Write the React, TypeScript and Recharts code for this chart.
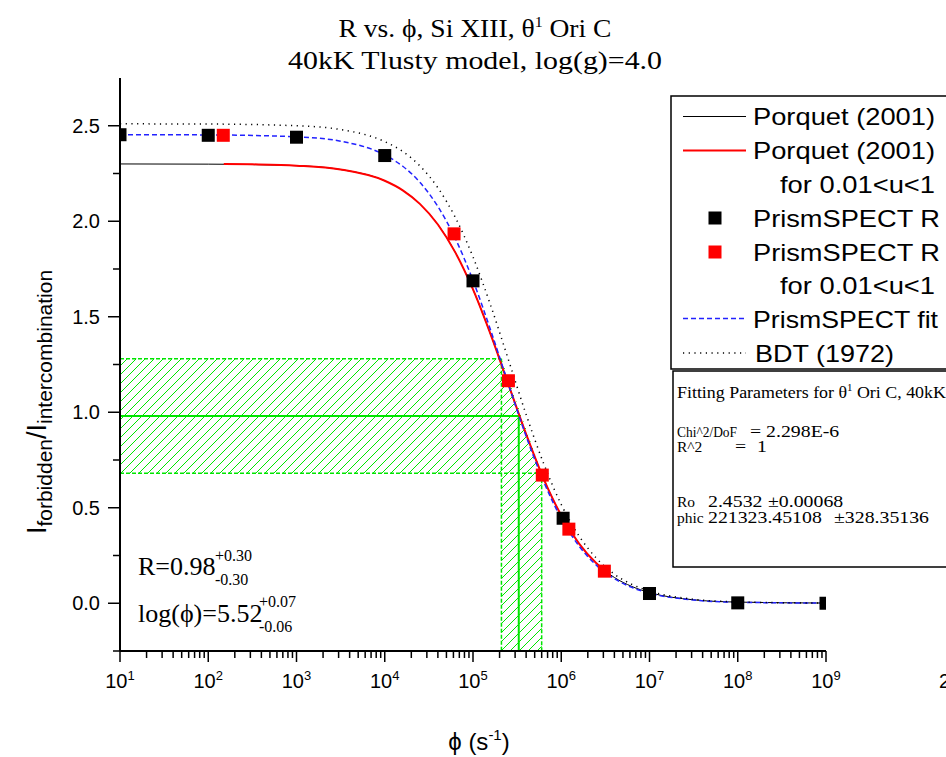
import React from 'react';
import {
  ComposedChart,
  Line,
  Scatter,
  Area,
  XAxis,
  YAxis,
  ReferenceArea,
  ReferenceLine,
} from 'recharts';

// ---------- data ----------
const curvePhi = [10, 100, 1e3, 3.16e3, 1e4, 1.6e4, 2.5e4, 4e4, 6.3e4, 1e5, 1.6e5, 2.5e5, 4e5, 6.3e5, 1e6, 1.6e6, 2.5e6, 4e6, 6.3e6, 1e7, 3.16e7, 1e8, 1e9];
const porquetR = [2.300, 2.299, 2.291, 2.271, 2.212, 2.162, 2.091, 1.983, 1.837, 1.643, 1.402, 1.150, 0.885, 0.653, 0.460, 0.311, 0.209, 0.135, 0.088, 0.056, 0.018, 0.006, 0.001];
const fitR = [2.453, 2.452, 2.442, 2.419, 2.347, 2.288, 2.204, 2.077, 1.910, 1.690, 1.424, 1.152, 0.874, 0.638, 0.444, 0.298, 0.199, 0.129, 0.083, 0.053, 0.017, 0.005, 0.001];
const bdtR = [2.510, 2.509, 2.500, 2.480, 2.417, 2.365, 2.290, 2.175, 2.020, 1.813, 1.554, 1.280, 0.988, 0.733, 0.517, 0.351, 0.236, 0.152, 0.099, 0.064, 0.021, 0.007, 0.001];

const porquetUPhi = [150, 316, 1e3, 3.16e3, 1e4, 1.6e4, 2.5e4, 4e4, 6.3e4, 1e5, 1.6e5, 2.5e5, 4e5, 6.3e5, 1e6, 1.6e6, 2.5e6, 3e6];
const porquetUR = [2.300, 2.298, 2.291, 2.271, 2.212, 2.162, 2.091, 1.983, 1.837, 1.643, 1.402, 1.150, 0.885, 0.653, 0.460, 0.311, 0.209, 0.177];

const prismPhi = [10, 100, 1e3, 1e4, 1e5, 1.05e6, 1e7, 1e8, 1e9];
const prismR = [2.453, 2.450, 2.440, 2.344, 1.688, 0.445, 0.051, 0.002, 0.0];

const prismUPhi = [148, 6.1e4, 2.52e5, 6.1e5, 1.22e6, 3.08e6];
const prismUR = [2.450, 1.934, 1.165, 0.671, 0.388, 0.168];

// measured R band and phi band
const bandPhi = [10, 2.1e5, 3.3e5, 6.0e5]; // start, low, centre, high
const bandR = [0.68, 0.98, 1.28]; // low, centre, high

const xMajorTicks = [1e1, 1e2, 1e3, 1e4, 1e5, 1e6, 1e7, 1e8, 1e9];
const xMinorMult = [2, 3, 4, 5, 6, 7, 8, 9];
const yMajorTicks = [0, 0.5, 1.0, 1.5, 2.0, 2.5];
const yMinorTicks = [-0.25, 0.25, 0.75, 1.25, 1.75, 2.25];

const zip = (xs: number[], ys: number[]) => xs.map((phi, i) => ({ phi, r: ys[i] }));

const porquetData = zip(curvePhi, porquetR);
const fitData = zip(curvePhi, fitR);
const bdtData = zip(curvePhi, bdtR);
const porquetUData = zip(porquetUPhi, porquetUR);
const prismData = zip(prismPhi, prismR);
const prismUData = zip(prismUPhi, prismUR);
const vBandData = [
  { phi: bandPhi[1], r: bandR[2] },
  { phi: bandPhi[3], r: bandR[0] },
];

const xTicks: number[] = [];
xMajorTicks.forEach((m, i) => {
  xTicks.push(m);
  if (i < xMajorTicks.length - 1) xMinorMult.forEach((k) => xTicks.push(m * k));
});
const yTicks = [...yMajorTicks, ...yMinorTicks].sort((a, b) => a - b);

const SANS = '"Liberation Sans", Arial, sans-serif';
const SERIF = '"Liberation Serif", "Times New Roman", serif';
const GREEN = '#00e600';

const X_TICK_SIZE = 11;
const X_TICK_MARGIN = 4;
const Y_TICK_SIZE = 12;
const Y_TICK_MARGIN = 8;

const XTick = (props: any) => {
  const { x, y, payload } = props;
  const v = payload.value as number;
  const e = Math.round(Math.log10(v));
  const major = Math.abs(v - Math.pow(10, e)) < 1e-6 * v;
  const ay = y - X_TICK_SIZE - X_TICK_MARGIN;
  return (
    <g>
      <line x1={x} x2={x} y1={ay} y2={ay + (major ? 11 : 7)} stroke="#000" strokeWidth={1.5} />
      {major && (
        <text x={x} y={ay + 37} textAnchor="middle" fontFamily={SANS} fontSize={20} fill="#000">
          10
          <tspan dy={-8} fontSize={13}>{e}</tspan>
        </text>
      )}
    </g>
  );
};

const YTick = (props: any) => {
  const { x, y, payload } = props;
  const v = payload.value as number;
  const major = yMajorTicks.some((m) => Math.abs(m - v) < 1e-9);
  const ax = x + Y_TICK_SIZE + Y_TICK_MARGIN;
  return (
    <g>
      <line x1={ax - (major ? 12 : 7)} x2={ax} y1={y} y2={y} stroke="#000" strokeWidth={1.5} />
      {major && (
        <text x={ax - 20} y={y + 7} textAnchor="end" fontFamily={SANS} fontSize={20} fill="#000">
          {v.toFixed(1)}
        </text>
      )}
    </g>
  );
};

const BlackSquare = (p: any) => <rect x={p.cx - 6.5} y={p.cy - 6.5} width={13} height={13} fill="#000" />;
const RedSquare = (p: any) => <rect x={p.cx - 6.5} y={p.cy - 6.5} width={13} height={13} fill="#ff0000" />;

// scaled text helper
const ST = (props: any) => {
  const { x, y, sx = 1, children, ...rest } = props;
  return (
    <g transform={`translate(${x},${y}) scale(${sx},1)`}>
      <text x={0} y={0} {...rest}>
        {children}
      </text>
    </g>
  );
};

// text with fixed length
const LT = (props: any) => {
  const { len, children, ...rest } = props;
  return (
    <text textLength={len} lengthAdjust="spacingAndGlyphs" {...rest}>
      {children}
    </text>
  );
};

const Overlay = () => {
  const legendRows = [125, 159, 193, 226.5, 260.5, 294, 328, 361.5];
  const lx1 = 683;
  const lx2 = 746;
  const tx = 753;
  const lfs = 24;
  const lp = { fontFamily: SANS, fontSize: lfs, fill: '#000' };
  const fl = { fontFamily: SERIF, fontSize: 15.5, fill: '#000' };
  const fv = { fontFamily: SERIF, fontSize: 16.5, fill: '#000' };
  const vsx = 1.2;
  return (
    <svg width={946} height={757} style={{ position: 'absolute', left: 0, top: 0, pointerEvents: 'none' }}>
      {/* title */}
      <ST x={475} y={37} sx={1.06} textAnchor="middle" fontFamily={SERIF} fontSize={26} fill="#000">
        R vs. ϕ, Si XIII, θ<tspan dy={-10} fontSize={15}>1</tspan>
        <tspan dy={10}> Ori C</tspan>
      </ST>
      <ST x={475} y={69} sx={1.15} textAnchor="middle" fontFamily={SERIF} fontSize={26} fill="#000">
        40kK Tlusty model, log(g)=4.0
      </ST>

      {/* y label */}
      <text transform="translate(46,402) rotate(-90)" textAnchor="middle" fontFamily={SANS} fontSize={27} fill="#000">
        I<tspan fontSize={21} dy={6}>forbidden</tspan>
        <tspan fontSize={27} dy={-6}>/I</tspan>
        <tspan fontSize={21} dy={6}>intercombination</tspan>
      </text>

      {/* x label */}
      <text x={479} y={750} textAnchor="middle" fontFamily={SANS} fontSize={24} fill="#000">
        ϕ (s<tspan dy={-10} fontSize={15}>-1</tspan>
        <tspan dy={10}>)</tspan>
      </text>

      <text x={939} y={688} fontFamily={SANS} fontSize={20} fill="#000">2</text>

      {/* annotations */}
      <text x={138} y={575} fontFamily={SERIF} fontSize={26} fill="#000">R=0.98</text>
      <text x={215} y={561} fontFamily={SERIF} fontSize={16} fill="#000">+0.30</text>
      <text x={215} y={585} fontFamily={SERIF} fontSize={16} fill="#000">-0.30</text>
      <text x={138} y={622} fontFamily={SERIF} fontSize={26} fill="#000">log(ϕ)=5.52</text>
      <text x={259} y={607} fontFamily={SERIF} fontSize={16} fill="#000">+0.07</text>
      <text x={259} y={632} fontFamily={SERIF} fontSize={16} fill="#000">-0.06</text>

      {/* legend box */}
      <rect x={671} y={96} width={300} height={273} fill="#fff" stroke="#000" strokeWidth={1.5} />
      <line x1={lx1} x2={lx2} y1={legendRows[0] - 8.5} y2={legendRows[0] - 8.5} stroke="#000" strokeWidth={1} />
      <LT x={tx} y={legendRows[0]} len={182} {...lp}>Porquet (2001)</LT>
      <line x1={lx1} x2={lx2} y1={legendRows[1] - 8.5} y2={legendRows[1] - 8.5} stroke="#ff0000" strokeWidth={2} />
      <LT x={tx} y={legendRows[1]} len={182} {...lp}>Porquet (2001)</LT>
      <LT x={780} y={legendRows[2]} len={155} {...lp}>for 0.01&lt;u&lt;1</LT>
      <rect x={708.5} y={legendRows[3] - 8.5 - 6.5} width={13} height={13} fill="#000" />
      <LT x={tx} y={legendRows[3]} len={187} {...lp}>PrismSPECT R</LT>
      <rect x={708.5} y={legendRows[4] - 8.5 - 6.5} width={13} height={13} fill="#ff0000" />
      <LT x={tx} y={legendRows[4]} len={187} {...lp}>PrismSPECT R</LT>
      <LT x={780} y={legendRows[5]} len={155} {...lp}>for 0.01&lt;u&lt;1</LT>
      <line x1={lx1} x2={lx2} y1={legendRows[6] - 9.5} y2={legendRows[6] - 9.5} stroke="#2222ff" strokeWidth={1.5} strokeDasharray="5 3" />
      <LT x={tx} y={legendRows[6]} len={185} {...lp}>PrismSPECT fit</LT>
      <line x1={lx1} x2={lx2} y1={legendRows[7] - 8.5} y2={legendRows[7] - 8.5} stroke="#000" strokeWidth={1.5} strokeDasharray="1.2 4.5" />
      <LT x={755} y={legendRows[7]} len={139} {...lp}>BDT (1972)</LT>

      {/* fitting parameters box */}
      <rect x={673} y={371} width={300} height={196} fill="#fff" stroke="#000" strokeWidth={1.5} />
      <ST x={677} y={398} sx={1.085} {...fv}>
        Fitting Parameters for θ<tspan dy={-7} fontSize={10}>1</tspan>
        <tspan dy={7}> Ori C, 40kK</tspan>
      </ST>
      <LT x={677} y={437} len={60} {...fl}>Chi^2/DoF</LT>
      <ST x={750} y={437} sx={vsx} {...fv}>= 2.298E-6</ST>
      <ST x={677} y={452} {...fl}>R^2</ST>
      <ST x={735} y={452} sx={vsx} {...fv}>=</ST>
      <ST x={757} y={452} sx={vsx} {...fv}>1</ST>
      <ST x={677} y={507} {...fl}>Ro</ST>
      <ST x={708} y={507} sx={vsx} {...fv}>2.4532</ST>
      <ST x={768} y={507} sx={vsx} {...fv}>±0.00068</ST>
      <ST x={677} y={523} {...fl}>phic</ST>
      <ST x={708} y={523} sx={vsx} {...fv}>221323.45108</ST>
      <ST x={834} y={523} sx={vsx} {...fv}>±328.35136</ST>
    </svg>
  );
};

export default function App() {
  return (
    <div style={{ position: 'absolute', left: 0, top: 0, width: 946, height: 757, background: '#fff' }}>
      <svg width={0} height={0} style={{ position: 'absolute' }}>
        <defs>
          <pattern id="hatch" patternUnits="userSpaceOnUse" width={9} height={9}>
            <path d="M-1,1 l2,-2 M0,9 l9,-9 M8,10 l2,-2" stroke={GREEN} strokeWidth={1} />
          </pattern>
        </defs>
      </svg>
      <ComposedChart
        width={946}
        height={757}
        margin={{ top: 78, right: 120, left: 60, bottom: 66 }}
        style={{ position: 'absolute', left: 0, top: 0 }}
      >
        <XAxis
          dataKey="phi"
          type="number"
          scale="log"
          domain={[10, 1e9]}
          allowDataOverflow
          ticks={xTicks}
          interval={0}
          tick={<XTick />}
          tickLine={false}
          tickSize={X_TICK_SIZE}
          tickMargin={X_TICK_MARGIN}
          height={40}
          axisLine={{ stroke: '#000', strokeWidth: 2 }}
        />
        <YAxis
          dataKey="r"
          type="number"
          domain={[-0.25, 2.75]}
          allowDataOverflow
          ticks={yTicks}
          interval={0}
          tick={<YTick />}
          tickLine={false}
          tickSize={Y_TICK_SIZE}
          tickMargin={Y_TICK_MARGIN}
          width={60}
          axisLine={{ stroke: '#000', strokeWidth: 2 }}
        />

        {/* hatched uncertainty bands */}
        <ReferenceArea
          x1={bandPhi[0]}
          x2={bandPhi[1]}
          y1={bandR[0]}
          y2={bandR[2]}
          fill="url(#hatch)"
          fillOpacity={1}
          stroke="none"
          ifOverflow="visible"
        />
        <Area
          data={vBandData}
          dataKey="r"
          type="linear"
          baseValue={-0.25}
          fill="url(#hatch)"
          fillOpacity={1}
          stroke="none"
          isAnimationActive={false}
          dot={false}
          activeDot={false}
        />
        <ReferenceLine segment={[{ x: bandPhi[0], y: bandR[2] }, { x: bandPhi[1], y: bandR[2] }]} stroke={GREEN} strokeWidth={1.5} strokeDasharray="4 2" ifOverflow="visible" />
        <ReferenceLine segment={[{ x: bandPhi[0], y: bandR[0] }, { x: bandPhi[3], y: bandR[0] }]} stroke={GREEN} strokeWidth={1.5} strokeDasharray="4 2" ifOverflow="visible" />
        <ReferenceLine segment={[{ x: bandPhi[1], y: bandR[2] }, { x: bandPhi[1], y: -0.25 }]} stroke={GREEN} strokeWidth={1.5} strokeDasharray="4 2" ifOverflow="visible" />
        <ReferenceLine segment={[{ x: bandPhi[3], y: bandR[0] }, { x: bandPhi[3], y: -0.25 }]} stroke={GREEN} strokeWidth={1.5} strokeDasharray="4 2" ifOverflow="visible" />
        <ReferenceLine segment={[{ x: bandPhi[0], y: bandR[1] }, { x: bandPhi[2], y: bandR[1] }]} stroke={GREEN} strokeWidth={2} ifOverflow="visible" />
        <ReferenceLine segment={[{ x: bandPhi[2], y: bandR[1] }, { x: bandPhi[2], y: -0.25 }]} stroke={GREEN} strokeWidth={2} ifOverflow="visible" />

        <Line data={porquetData} dataKey="r" type="monotone" stroke="#000" strokeWidth={1} dot={false} activeDot={false} isAnimationActive={false} />
        <Line data={porquetUData} dataKey="r" type="monotone" stroke="#ff0000" strokeWidth={2} dot={false} activeDot={false} isAnimationActive={false} />
        <Scatter data={prismData} dataKey="r" shape={BlackSquare} isAnimationActive={false} />
        <Scatter data={prismUData} dataKey="r" shape={RedSquare} isAnimationActive={false} />
        <Line data={fitData} dataKey="r" type="monotone" stroke="#2222ff" strokeWidth={1.5} strokeDasharray="5 3" dot={false} activeDot={false} isAnimationActive={false} />
        <Line data={bdtData} dataKey="r" type="monotone" stroke="#000" strokeWidth={1.5} strokeDasharray="1.2 4.5" dot={false} activeDot={false} isAnimationActive={false} />
      </ComposedChart>
      <Overlay />
    </div>
  );
}
